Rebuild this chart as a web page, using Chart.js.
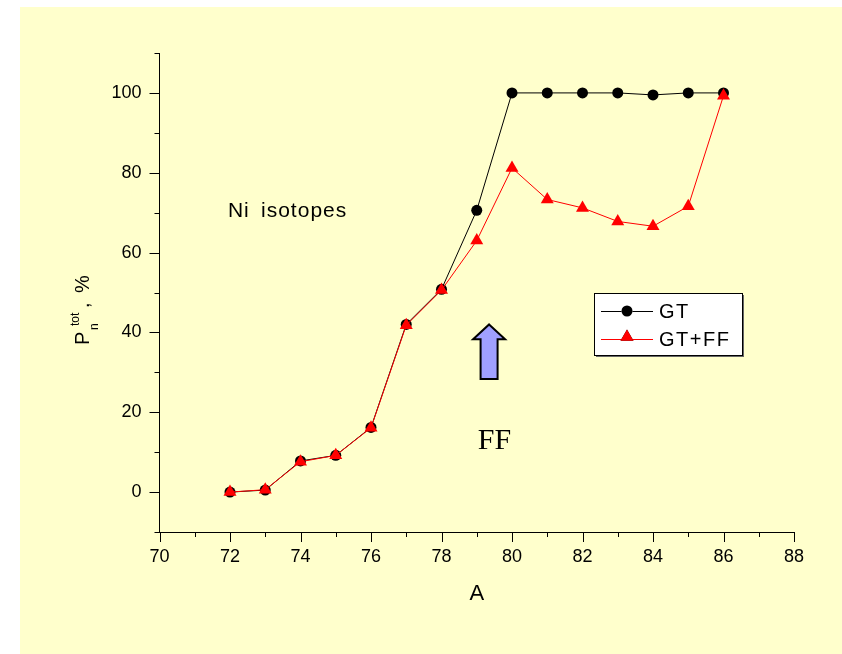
<!DOCTYPE html>
<html>
<head>
<meta charset="utf-8">
<script src="https://cdn.jsdelivr.net/npm/chart.js@4/dist/chart.umd.min.js"></script>
<style>
  html, body { margin: 0; padding: 0; background: #ffffff; }
  canvas { display: block; }
</style>
</head>
<body>
<canvas id="c" width="842" height="654"></canvas>
<script>
// Mass number A of the Ni isotopes
const massNumbers = [72, 73, 74, 75, 76, 77, 78, 79, 80, 81, 82, 83, 84, 85, 86];
// Total delayed-neutron emission probability, %
const pnGT   = [0, 0.5, 7.8, 9.2, 16.2, 42.0, 50.8, 70.6, 100, 100, 100, 100, 99.5, 100, 100];
const pnGTFF = [0, 0.6, 7.6, 9.2, 16.1, 41.8, 50.6, 63.0, 81.2, 73.3, 71.2, 67.8, 66.6, 71.6, 99.3];

const xTickValues = [70, 72, 74, 76, 78, 80, 82, 84, 86, 88];
const yTickValues = [0, 20, 40, 60, 80, 100];
const seriesNames = ['GT', 'GT+FF'];

const SANS = 'Arial, "Liberation Sans", Helvetica, sans-serif';
const SERIF = '"Times New Roman", "Liberation Serif", serif';

const toPoints = ys => massNumbers.map((a, i) => ({ x: a, y: ys[i] }));

// Page background with the pale panel
const backdrop = {
  id: 'backdrop',
  beforeDraw(chart) {
    const ctx = chart.ctx;
    ctx.save();
    ctx.fillStyle = '#ffffff';
    ctx.fillRect(0, 0, chart.width, chart.height);
    ctx.fillStyle = '#ffffcc';
    ctx.fillRect(20, 7, chart.width - 20, chart.height - 7);
    ctx.restore();
  }
};

// Outward major/minor tick marks, axis titles, notes, arrow and legend
const decorations = {
  id: 'decorations',
  afterDraw(chart) {
    const ctx = chart.ctx;
    const xs = chart.scales.x, ys = chart.scales.y;
    const area = chart.chartArea;
    ctx.save();
    ctx.strokeStyle = '#000';
    ctx.lineWidth = 1;

    // x ticks (every 1, major every 2)
    for (let v = xs.min; v <= xs.max; v += 1) {
      const px = Math.round(xs.getPixelForValue(v)) + 0.5;
      const len = (v % 2 === 0) ? 10 : 5;
      ctx.beginPath();
      ctx.moveTo(px, area.bottom);
      ctx.lineTo(px, area.bottom + len);
      ctx.stroke();
    }
    // y ticks (every 10, major every 20)
    for (let v = ys.min; v <= ys.max; v += 10) {
      const py = Math.round(ys.getPixelForValue(v)) + 0.5;
      const len = (v % 20 === 0) ? 10 : 5;
      ctx.beginPath();
      ctx.moveTo(area.left, py);
      ctx.lineTo(area.left - len, py);
      ctx.stroke();
    }

    ctx.fillStyle = '#000';
    // x axis title
    ctx.font = '22px ' + SANS;
    ctx.textAlign = 'center';
    ctx.textBaseline = 'alphabetic';
    ctx.fillText('A', (area.left + area.right) / 2, 600);

    // y axis title: P_n^tot , %
    ctx.save();
    ctx.translate(89, 345);
    ctx.rotate(-Math.PI / 2);
    ctx.textAlign = 'left';
    ctx.font = '20px ' + SANS;
    ctx.fillText('P', 0, 0);
    ctx.font = '12px ' + SANS;
    ctx.fillText('n', 15, 9);
    ctx.fillText('tot', 19, -10);
    ctx.font = '20px ' + SANS;
    ctx.fillText(',', 37, 0);
    ctx.fillText('%', 52, 0);
    ctx.restore();

    // "Ni  isotopes" note
    ctx.font = '21px ' + SANS;
    ctx.textAlign = 'left';
    ctx.letterSpacing = '1px';
    ctx.fillText('Ni', xs.getPixelForValue(71.94), ys.getPixelForValue(68.8));
    ctx.fillText('isotopes', xs.getPixelForValue(72.88), ys.getPixelForValue(68.8));
    ctx.letterSpacing = '0px';

    // FF note
    ctx.font = '30px ' + SERIF;
    ctx.textAlign = 'center';
    ctx.fillText('FF', xs.getPixelForValue(79.5), ys.getPixelForValue(10.8));

    // Upward block arrow
    const cx = xs.getPixelForValue(79.35);
    const tipY = ys.getPixelForValue(42);
    const wingY = ys.getPixelForValue(38.3);
    const baseY = ys.getPixelForValue(28.3);
    ctx.beginPath();
    ctx.moveTo(cx, tipY);
    ctx.lineTo(cx + 16, wingY);
    ctx.lineTo(cx + 8.5, wingY);
    ctx.lineTo(cx + 8.5, baseY);
    ctx.lineTo(cx - 8.5, baseY);
    ctx.lineTo(cx - 8.5, wingY);
    ctx.lineTo(cx - 16, wingY);
    ctx.closePath();
    ctx.fillStyle = '#a0a0ff';
    ctx.fill();
    ctx.lineWidth = 2;
    ctx.lineJoin = 'miter';
    ctx.strokeStyle = '#000';
    ctx.stroke();

    // Legend box
    const lx = 594, ly = 293, lw = 148, lh = 62;
    ctx.fillStyle = '#666';
    ctx.fillRect(lx + 2, ly + 2, lw, lh);
    ctx.fillStyle = '#ffffff';
    ctx.fillRect(lx, ly, lw, lh);
    ctx.lineWidth = 1;
    ctx.strokeStyle = '#000';
    ctx.strokeRect(lx + 0.5, ly + 0.5, lw, lh);

    const rows = [
      { y: 311, ds: chart.data.datasets[0] },
      { y: 339, ds: chart.data.datasets[1] }
    ];
    ctx.font = '20px ' + SANS;
    ctx.textAlign = 'left';
    ctx.textBaseline = 'middle';
    rows.forEach(r => {
      ctx.strokeStyle = r.ds.borderColor;
      ctx.lineWidth = 1;
      ctx.beginPath();
      ctx.moveTo(601, r.y + 0.5);
      ctx.lineTo(653, r.y + 0.5);
      ctx.stroke();
      Chart.helpers.drawPoint(ctx, {
        pointStyle: r.ds.pointStyle,
        radius: r.ds.pointRadius,
        borderWidth: 0,
        rotation: 0
      }, 627, r.y - (r.ds.pointStyle === 'triangle' ? 2 : 0));
      ctx.fillStyle = r.ds.pointBackgroundColor;
      ctx.fill();
      ctx.fillStyle = '#000';
      ctx.letterSpacing = '1.5px';
      ctx.fillText(r.ds.label, 659, r.y + 1);
      ctx.letterSpacing = '0px';
    });

    ctx.restore();
  }
};

new Chart(document.getElementById('c'), {
  type: 'line',
  data: {
    datasets: [
      {
        label: seriesNames[0],
        data: toPoints(pnGT),
        borderColor: '#000000',
        borderWidth: 1,
        pointStyle: 'circle',
        pointRadius: 5.5,
        pointBackgroundColor: '#000000',
        pointBorderWidth: 0,
        tension: 0,
        order: 2
      },
      {
        label: seriesNames[1],
        data: toPoints(pnGTFF),
        borderColor: '#ff0000',
        borderWidth: 1,
        pointStyle: 'triangle',
        pointRadius: 7.5,
        pointBackgroundColor: '#ff0000',
        pointBorderWidth: 0,
        tension: 0,
        order: 1
      }
    ]
  },
  options: {
    responsive: false,
    animation: false,
    events: [],
    layout: { padding: { left: 0, right: 48, top: 53, bottom: 0 } },
    plugins: {
      legend: { display: false },
      tooltip: { enabled: false }
    },
    scales: {
      x: {
        type: 'linear',
        min: 70,
        max: 88,
        afterBuildTicks: s => { s.ticks = xTickValues.map(v => ({ value: v })); },
        afterFit: s => { s.height = 122; },
        grid: { display: false, drawTicks: false },
        border: { display: true, color: '#000', width: 1 },
        ticks: {
          color: '#000',
          font: { family: SANS, size: 18 },
          padding: 14,
          maxRotation: 0,
          autoSkip: false
        }
      },
      y: {
        type: 'linear',
        min: -10,
        max: 110,
        afterBuildTicks: s => { s.ticks = yTickValues.map(v => ({ value: v })); },
        afterFit: s => { s.width = 159.5; },
        grid: { display: false, drawTicks: false },
        border: { display: true, color: '#000', width: 1 },
        ticks: {
          color: '#000',
          font: { family: SANS, size: 18 },
          padding: 18,
          autoSkip: false
        }
      }
    }
  },
  plugins: [backdrop, decorations]
});
</script>
</body>
</html>
